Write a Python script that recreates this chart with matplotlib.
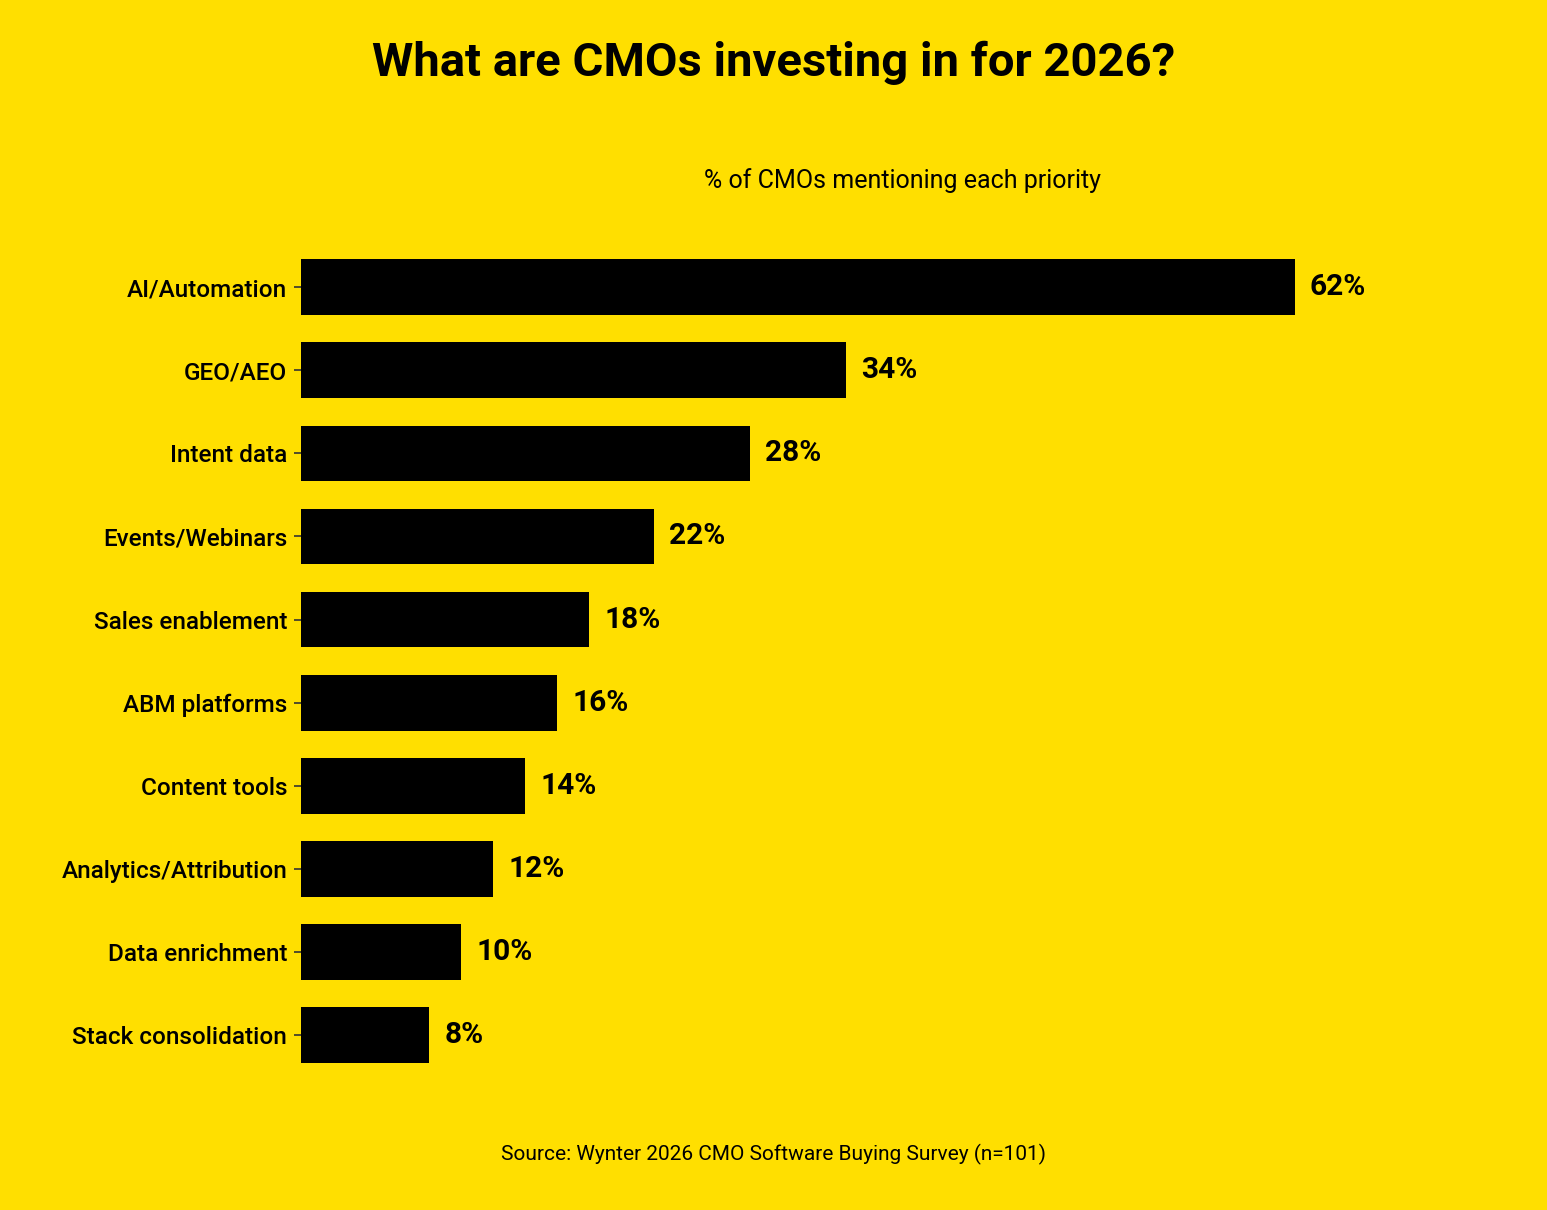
import matplotlib
matplotlib.use("Agg")
import matplotlib.pyplot as plt

categories = ["AI/Automation", "GEO/AEO", "Intent data", "Events/Webinars", "Sales enablement",
              "ABM platforms", "Content tools", "Analytics/Attribution", "Data enrichment",
              "Stack consolidation"]
values = [62, 34, 28, 22, 18, 16, 14, 12, 10, 8]
value_labels = ["62%", "34%", "28%", "22%", "18%", "16%", "14%", "12%", "10%", "8%"]

BG = "#FFDF00"
plt.rcParams['font.family'] = ['Roboto', 'DejaVu Sans']

fig = plt.figure(figsize=(15.47, 12.10), dpi=100, facecolor=BG)
W, H = 1547, 1210
left, right = 301, 1503
top, bottom = 229, 1065
ax = fig.add_axes([left / W, 1 - bottom / H, (right - left) / W, (bottom - top) / H])
ax.set_facecolor(BG)

y = list(range(len(categories)))
ax.barh(y, values, height=0.67, color="black")
ax.set_yticks(y)
ax.set_yticklabels(categories, fontsize=17.5, fontweight="medium")
ax.set_xlim(0, 75)
ax.set_ylim(len(categories) - 0.64, -0.7)
ax.set_xticks([])
for s in ax.spines.values():
    s.set_visible(False)
ax.tick_params(axis="y", length=5, width=1.2, color="#333333", pad=5)

for yi, v, lab in zip(y, values, value_labels):
    ax.annotate(lab, (v, yi), xytext=(11, 0), textcoords="offset points",
                va="center", ha="left", fontsize=21.5, fontweight="bold")

fig.text(0.5, 1 - 63 / H, "What are CMOs investing in for 2026?", ha="center", va="center",
         fontsize=34, fontweight="bold")
fig.text((left + right) / 2 / W, 1 - 181 / H, "% of CMOs mentioning each priority",
         ha="center", va="center", fontsize=18)
fig.text(0.5, 1 - 1154 / H, "Source: Wynter 2026 CMO Software Buying Survey (n=101)",
         ha="center", va="center", fontsize=15)

fig.savefig("out.png", dpi=100, facecolor=BG)
